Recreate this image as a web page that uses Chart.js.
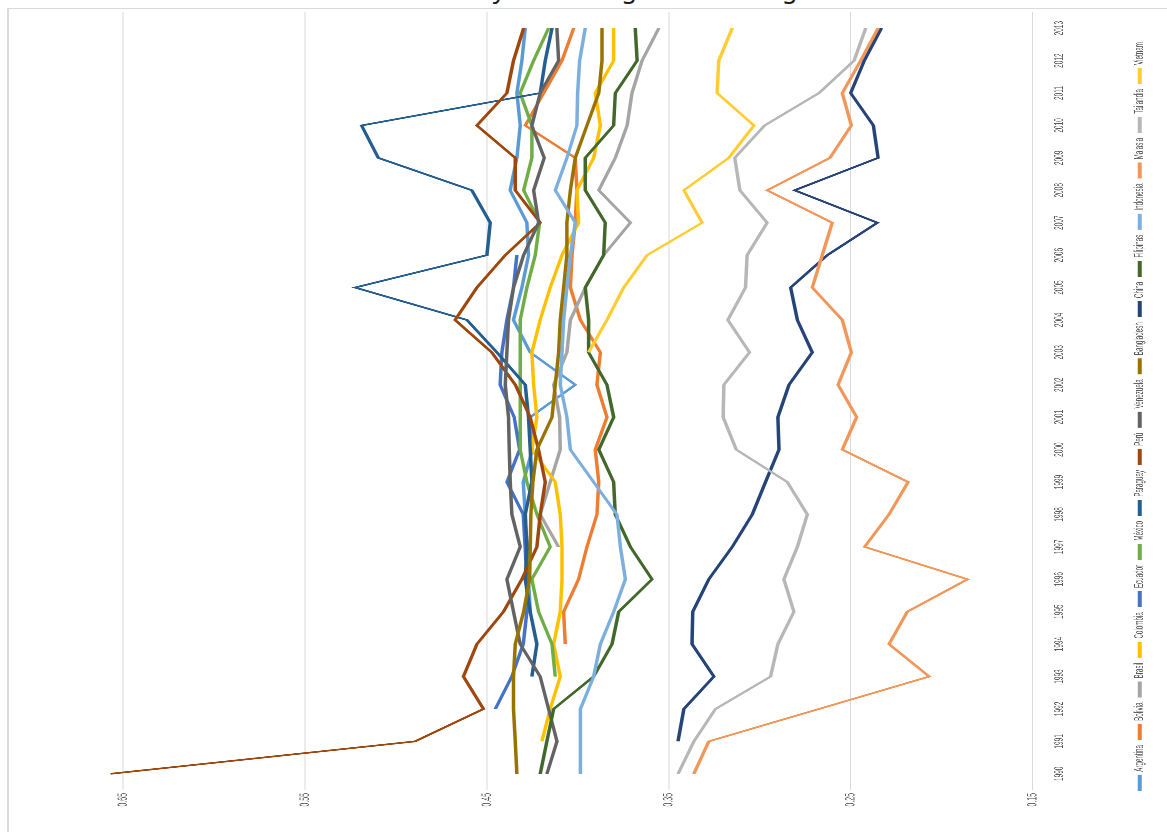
<!DOCTYPE html>
<html lang="es">
<head>
<meta charset="utf-8">
<title>Coeficiente de Gini 1990-2013</title>
<script src="https://cdn.jsdelivr.net/npm/chart.js@4.4.1/dist/chart.umd.min.js"></script>
<style>
  html, body { margin: 0; padding: 0; width: 1167px; height: 832px; overflow: hidden; background: #fff; }
  #title {
    position: absolute; left: 0; top: -29px; width: 1167px; text-align: center;
    font: 25px/34px 'Noto Sans', sans-serif; color: #1a1a1a; white-space: nowrap;
  }
  #frame {
    position: absolute; left: 7px; top: 8px; width: 1200px; height: 900px;
    border-left: 2px solid #d9d9d9; border-top: 1px solid #d9d9d9; background: #fff;
  }
  /* the chart is drawn upright, then turned a quarter turn to the left */
  #rot {
    position: absolute; left: 0; top: 0; width: 1660px; height: 1170px;
    transform-origin: 0 0;
    transform: translate(7px, 837px) rotate(-90deg) scale(0.5, 1);
  }
</style>
</head>
<body>
<div id="title">Latinoamérica y Asia: desigualdad de ingreso</div>
<div id="frame"></div>
<div id="rot"><canvas id="gini-chart"></canvas></div>

<script>
// ============================================================
//  Gini 1990-2013, one line per country (null = no data)
// ============================================================

const years = ['1990','1991','1992','1993','1994','1995','1996','1997','1998','1999','2000','2001',
               '2002','2003','2004','2005','2006','2007','2008','2009','2010','2011','2012','2013'];
const valueTicks = [0.15, 0.25, 0.35, 0.45, 0.55, 0.65];

const countries = ['Argentina','Bolivia','Brasil','Colombia','Ecuador','México','Paraguay','Perú',
                   'Venezuela','Bangladesh','China','Filipinas','Indonesia','Malasia','Tailandia','Vietnam'];
const colors    = ['#5B9BD5','#ED7D31','#A5A5A5','#FFC000','#4472C4','#70AD47','#255E91','#9E480E',
                   '#636363','#997300','#264478','#43682B','#7CAFDD','#F1975A','#B7B7B7','#FFCD33'];

//                 1990    1991    1992    1993    1994    1995    1996    1997    1998    1999    2000    2001    2002    2003    2004    2005    2006    2007    2008    2009    2010    2011    2012    2013
const argentina  = [null,   null,   null,   null,   0.4225, 0.4262, 0.4271, 0.4280, 0.4289, 0.4300, 0.4250, 0.4262, 0.4014, 0.4262, 0.4354, 0.4308, 0.4271, 0.4280, 0.4372, 0.4335, 0.4317, 0.4335, 0.4308, 0.4289];
const bolivia    = [null,   null,   null,   null,   0.4069, 0.4078, 0.3996, 0.3950, 0.3895, 0.3885, 0.3904, 0.3840, 0.3895, 0.3876, 0.3986, 0.4041, 0.4032, 0.4014, 0.4005, 0.4014, 0.4289, 0.4188, 0.4087, 0.4023];
const brasil     = [null,   null,   null,   null,   null,   null,   null,   0.4106, 0.4207, 0.4152, 0.4097, 0.4100, 0.4133, 0.4060, 0.4041, 0.3959, 0.3858, 0.3711, 0.3885, 0.3794, 0.3729, 0.3702, 0.3647, 0.3555];
const colombia   = [null,   0.4198, 0.4152, 0.4097, 0.4133, 0.4097, 0.4087, 0.4087, 0.4097, 0.4124, 0.4253, 0.4225, 0.4243, 0.4253, 0.4207, 0.4152, 0.4087, 0.3996, 0.4005, 0.3913, 0.3876, 0.3904, 0.3803, 0.3803];
const ecuador    = [null,   null,   0.4454, 0.4363, 0.4300, 0.4280, 0.4280, 0.4290, 0.4300, 0.4390, 0.4320, 0.4350, 0.4427, 0.4418, 0.4390, 0.4354, 0.4335, null,   null,   null,   null,   null,   null,   null];
const mexico     = [null,   null,   null,   0.4124, 0.4142, 0.4216, 0.4253, 0.4152, 0.4225, 0.4280, 0.4317, 0.4317, 0.4317, 0.4317, 0.4317, 0.4280, 0.4234, 0.4210, 0.4298, 0.4253, 0.4253, 0.4317, 0.4243, 0.4161];
const paraguay   = [null,   null,   null,   0.4253, 0.4225, 0.4262, 0.4289, 0.4280, 0.4289, 0.4253, 0.4262, 0.4271, 0.4289, 0.4445, 0.4610, 0.5225, 0.4500, 0.4482, 0.4583, 0.5097, 0.5189, 0.4207, 0.4179, 0.4142];
const peru       = [0.6570, 0.4895, 0.4519, 0.4629, 0.4555, 0.4409, 0.4308, 0.4225, 0.4207, 0.4179, 0.4216, 0.4262, 0.4344, 0.4473, 0.4675, 0.4555, 0.4399, 0.4207, 0.4344, 0.4344, 0.4555, 0.4390, 0.4354, 0.4298];
const venezuela  = [0.4170, 0.4115, 0.4161, 0.4207, 0.4317, 0.4354, 0.4390, 0.4317, 0.4363, 0.4372, 0.4377, 0.4381, 0.4399, 0.4390, 0.4381, 0.4354, 0.4298, 0.4216, 0.4243, 0.4185, 0.4253, 0.4207, 0.4106, 0.4115];
const bangladesh = [0.4335, 0.4344, 0.4354, 0.4354, 0.4344, 0.4298, 0.4265, 0.4262, 0.4258, 0.4247, 0.4225, 0.4142, 0.4124, 0.4106, 0.4097, 0.4078, 0.4060, 0.4060, 0.4041, 0.4014, 0.3950, 0.3885, 0.3867, 0.3867];
const china      = [null,   0.3449, 0.3417, 0.3252, 0.3372, 0.3368, 0.3280, 0.3151, 0.3041, 0.2968, 0.2894, 0.2900, 0.2839, 0.2711, 0.2793, 0.2830, 0.2628, 0.2353, 0.2808, 0.2349, 0.2375, 0.2500, 0.2425, 0.2331];
const filipinas  = [0.4207, 0.4170, 0.4133, 0.3913, 0.3812, 0.3775, 0.3592, 0.3711, 0.3794, 0.3803, 0.3885, 0.3803, 0.3840, 0.3941, 0.3941, 0.3959, 0.3858, 0.3849, 0.3959, 0.3959, 0.3803, 0.3794, 0.3674, 0.3684];
const indonesia  = [0.3986, 0.3986, 0.3986, 0.3913, 0.3876, 0.3803, 0.3739, 0.3766, 0.3785, 0.3913, 0.4041, 0.4060, 0.4097, 0.4087, 0.4078, 0.4060, 0.4041, 0.4014, 0.4124, 0.4060, 0.4005, 0.4001, 0.3990, 0.3959];
const malasia    = [0.3362, 0.3280, null,   0.2068, 0.2289, 0.2188, 0.1857, 0.2423, 0.2289, 0.2184, 0.2546, 0.2467, 0.2569, 0.2496, 0.2546, 0.2711, 0.2656, 0.2601, 0.2959, 0.2614, 0.2496, 0.2546, 0.2445, 0.2349];
const tailandia  = [0.3449, 0.3362, 0.3243, 0.2940, 0.2900, 0.2812, 0.2867, 0.2793, 0.2738, 0.2848, 0.3129, 0.3201, 0.3197, 0.3056, 0.3175, 0.3078, 0.3069, 0.2959, 0.3109, 0.3137, 0.2973, 0.2674, 0.2481, 0.2417];
const vietnam    = [null,   null,   null,   null,   null,   null,   null,   null,   null,   null,   null,   null,   null,   0.3941, 0.3840, 0.3748, 0.3619, 0.3316, 0.3417, 0.3170, 0.3032, 0.3234, 0.3225, 0.3151];

const series = [argentina, bolivia, brasil, colombia, ecuador, mexico, paraguay, peru,
                venezuela, bangladesh, china, filipinas, indonesia, malasia, tailandia, vietnam];

const GiniChart = (() => {

  const textColor = '#595959';
  const family = "'Liberation Sans', Arial, sans-serif";

  function render() {
    const ctx = document.getElementById('gini-chart');

    // later series are painted over earlier ones, as in the spreadsheet
    const datasets = countries.map((name, i) => ({
      label: name,
      data: series[i],
      borderColor: colors[i],
      backgroundColor: colors[i],
      borderWidth: 3.5,
      pointRadius: 0, pointHoverRadius: 0,
      tension: 0, spanGaps: true,
      order: countries.length - i,
    }));

    return new Chart(ctx, {
      type: 'line',
      data: { labels: years, datasets },
      options: {
        responsive: true, maintainAspectRatio: false,
        animation: false, devicePixelRatio: 2,
        events: [],
        // left padding nudges the centred legend; the value axis width makes up for it
        layout: { padding: { top: 98, bottom: 21, left: 32, right: 10 } },
        plugins: {
          tooltip: { enabled: false },
          legend: {
            position: 'bottom', reverse: true,
            labels: {
              color: textColor, font: { family, size: 12.5 },
              boxWidth: 32, boxHeight: 4, padding: 10,
              generateLabels: chart =>
                Chart.defaults.plugins.legend.labels.generateLabels(chart)
                  .map(item => Object.assign(item, { lineWidth: 0 })),
            },
          },
        },
        scales: {
          x: {
            offset: true,
            grid: { display: false, drawTicks: false },
            border: { display: false },
            ticks: { color: textColor, font: { family, size: 13 }, autoSkip: false, maxRotation: 0, padding: 19 },
            afterFit: s => { s.height = 91; },
          },
          y: {
            min: 0.15, max: 0.66,
            afterBuildTicks: s => { s.ticks = valueTicks.map(v => ({ value: v })); },
            grid: { color: '#d9d9d9', lineWidth: 1, drawTicks: false },
            border: { display: false },
            ticks: { color: textColor, font: { family, size: 14 }, padding: 6, callback: v => v.toFixed(2) },
            afterFit: s => { s.width = 62; },
          },
        },
      },
    });
  }

  return { render };
})();

GiniChart.render();
</script>
</body>
</html>
